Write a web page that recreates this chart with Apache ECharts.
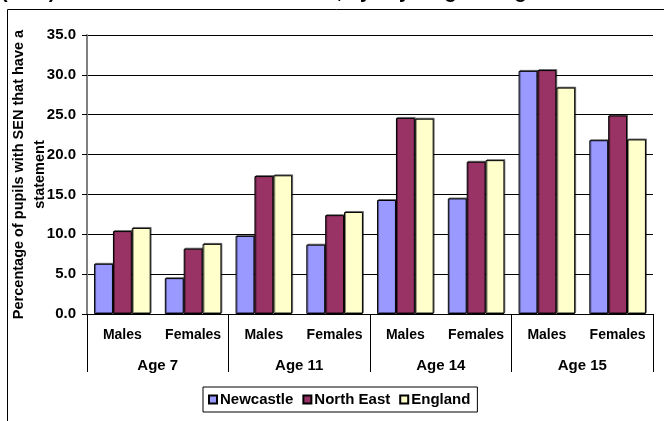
<!DOCTYPE html>
<html>
<head>
<meta charset="utf-8">
<script src="https://cdn.jsdelivr.net/npm/echarts@6/dist/echarts.min.js"></script>
<style>
  html, body { margin: 0; padding: 0; background: #fff; }
  #barChart { width: 664px; height: 421px; }
</style>
</head>
<body>
<div id="barChart"></div>
<script>
// data
var subCategories = ['Males', 'Females', 'Males', 'Females', 'Males', 'Females', 'Males', 'Females'];
var ageGroups = ['Age 7', 'Age 11', 'Age 14', 'Age 15'];
var newcastle = [6.3, 4.5, 9.8, 8.7, 14.3, 14.5, 30.5, 21.8];
var northEast = [10.4, 8.2, 17.3, 12.4, 24.6, 19.1, 30.6, 24.9];
var england = [10.8, 8.8, 17.4, 12.8, 24.5, 19.3, 28.4, 21.9];
var yTicks = [0, 5, 10, 15, 20, 25, 30, 35];

var FONT = 'Arial, "Liberation Sans", sans-serif';

var dom = document.getElementById("barChart");
var myChart = echarts.init(dom);

function barSeries(name, values, color) {
    return {
        name: name,
        type: 'bar',
        xAxisIndex: 0,
        data: values,
        barGap: '0%',
        barCategoryGap: '20%',
        itemStyle: {
            color: color,
            borderColor: '#000',
            borderWidth: 1,
            shadowColor: 'rgba(0,0,0,0.45)',
            shadowOffsetX: 1,
            shadowOffsetY: -1
        },
        emphasis: {disabled: true}
    };
}

var option = {
    animation: false,
    textStyle: {fontFamily: FONT},
    title: {
        text: '(SEN) that have a statement of SEN, by key stage and gender',
        left: 1,
        top: -18,
        padding: 0,
        textStyle: {fontSize: 20, fontWeight: 'bold', color: '#000', fontFamily: FONT}
    },
    graphic: [{
        type: 'rect',
        shape: {x: 7.5, y: 9.5, width: 700, height: 500},
        style: {fill: 'none', stroke: '#000', lineWidth: 1},
        silent: true
    }],
    grid: {left: 87, right: 11, top: 35, bottom: 107, outerBoundsMode: 'none', containLabel: false},
    legend: {
        data: ['Newcastle', 'North East', 'England'],
        left: 203,
        top: 387,
        padding: [5, 7, 5, 5],
        borderColor: '#000',
        borderWidth: 1,
        itemWidth: 8,
        itemHeight: 8,
        itemGap: 9,
        icon: 'rect',
        textStyle: {fontSize: 15, fontWeight: 'bold', color: '#000', padding: [0, 0, 0, -2]}
    },
    xAxis: [{
        type: 'category',
        data: subCategories,
        position: 'bottom',
        axisLine: {lineStyle: {color: '#000', width: 1}},
        axisTick: {length: 30, interval: 0, lineStyle: {color: '#000'}},
        axisLabel: {margin: 14, interval: 0, fontSize: 14, fontWeight: 'bold', color: '#000'},
        splitLine: {show: false}
    }, {
        type: 'category',
        data: ageGroups,
        position: 'bottom',
        axisLine: {show: false},
        axisTick: {show: true, length: 58, interval: 0, lineStyle: {color: '#000'}},
        axisLabel: {margin: 44, interval: 0, fontSize: 15, fontWeight: 'bold', color: '#000'},
        splitLine: {show: false}
    }],
    yAxis: {
        type: 'value',
        min: yTicks[0],
        max: yTicks[yTicks.length - 1],
        interval: 5,
        name: 'Percentage of pupils with SEN that have a\nstatement',
        nameLocation: 'middle',
        nameGap: 37,
        nameRotate: 90,
        nameMoveOverlap: false,
        nameTextStyle: {fontSize: 14.5, fontWeight: 'bold', color: '#000', lineHeight: 21, align: 'center'},
        axisLine: {show: true, lineStyle: {color: '#808080', width: 2}},
        axisTick: {show: true, length: 5, lineStyle: {color: '#000'}},
        axisLabel: {
            margin: 11, fontSize: 15, fontWeight: 'bold', color: '#000',
            formatter: function (v) { return v.toFixed(1); }
        },
        splitLine: {show: true, lineStyle: {color: '#000', width: 1}}
    },
    series: [
        barSeries('Newcastle', newcastle, '#9999FF'),
        barSeries('North East', northEast, '#993366'),
        barSeries('England', england, '#FFFFCC')
    ]
};

if (option && typeof option === "object") {
    myChart.setOption(option, true);
}
</script>
</body>
</html>
